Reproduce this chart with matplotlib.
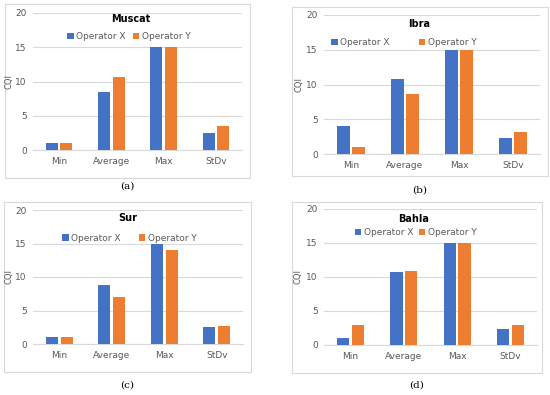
import matplotlib
matplotlib.use("Agg")
import matplotlib.pyplot as plt
from matplotlib.patches import Rectangle
import numpy as np

categories = ["Min", "Average", "Max", "StDv"]
series_names = ["Operator X", "Operator Y"]
titles = ["Muscat", "Ibra", "Sur", "Bahla"]
captions = ["(a)", "(b)", "(c)", "(d)"]

muscat_x = [1, 8.5, 15, 2.5]
muscat_y = [1, 10.6, 15, 3.5]
ibra_x = [4, 10.8, 15, 2.3]
ibra_y = [1, 8.6, 15, 3.2]
sur_x = [1, 8.8, 15, 2.6]
sur_y = [1, 7, 14, 2.7]
bahla_x = [1, 10.7, 15, 2.3]
bahla_y = [3, 10.9, 15, 3.0]

data = [(muscat_x, muscat_y), (ibra_x, ibra_y), (sur_x, sur_y), (bahla_x, bahla_y)]

W, H = 550, 395
fig = plt.figure(figsize=(5.5, 3.95), dpi=100)
fig.patch.set_facecolor("white")

# pixel layouts: (ax l, r, t, b), (box l, r, t, b), caption y, ylabel x, title pos, legend pos, colspacing
layouts = [
    ((33, 242, 13, 150), (5, 250, 4, 178), 186, 9, (0.47, 0.955), (0.46, 0.825), 0.8),
    ((324, 540, 15, 154), (292, 548, 7, 176), 190, 299, (0.44, 0.935), (0.37, 0.80), 3.2),
    ((33, 243, 210, 344), (4, 251, 202, 372), 385, 9, (0.45, 0.94), (0.46, 0.79), 2.0),
    ((324, 537, 209, 345), (292, 542, 202, 373), 385, 298, (0.42, 0.925), (0.43, 0.825), 0.6),
]

blue = "#4472C4"
orange = "#ED7D31"
grid_c = "#D9D9D9"
txt_c = "#595959"

x = np.arange(len(categories))
bw = 0.23
for i, ((sx, sy), lay) in enumerate(zip(data, layouts)):
    (al, ar, at, ab), (bl, br, bt, bb), cy, ylx, tpos, lpos, colsp = lay
    fig.patches.append(Rectangle((bl / W, 1 - bb / H), (br - bl) / W, (bb - bt) / H,
                                 transform=fig.transFigure, fill=False,
                                 edgecolor=grid_c, linewidth=0.8))
    ax = fig.add_axes([al / W, 1 - ab / H, (ar - al) / W, (ab - at) / H])
    ax.set_facecolor("none")
    ax.bar(x - 0.14, sx, bw, color=blue, label=series_names[0], zorder=3)
    ax.bar(x + 0.14, sy, bw, color=orange, label=series_names[1], zorder=3)
    ax.set_ylim(0, 20)
    ax.set_xlim(-0.5, 3.5)
    ax.set_yticks([0, 5, 10, 15, 20])
    ax.yaxis.grid(True, color=grid_c, linewidth=0.8, zorder=0)
    ax.set_axisbelow(True)
    for s in ["top", "right", "left"]:
        ax.spines[s].set_visible(False)
    ax.spines["bottom"].set_color(grid_c)
    ax.spines["bottom"].set_linewidth(0.8)
    ax.set_xticks(x)
    ax.set_xticklabels(categories)
    ax.tick_params(axis="both", length=0, labelsize=6.5, colors=txt_c)
    ax.tick_params(axis="y", pad=4.5)
    ax.tick_params(axis="x", pad=5)
    ax.text(tpos[0], tpos[1], titles[i], transform=ax.transAxes, ha="center",
            va="center", fontsize=7, fontweight="bold", color="black")
    leg = ax.legend(loc="center", bbox_to_anchor=lpos, ncol=2, frameon=False,
                    fontsize=6.5, handlelength=0.7, handleheight=0.7,
                    handletextpad=0.3, columnspacing=colsp, borderaxespad=0)
    for t in leg.get_texts():
        t.set_color(txt_c)
    fig.text(ylx / W, 1 - ((at + ab) / 2) / H, "CQI", rotation=90, ha="center",
             va="center", fontsize=6, color=txt_c)
    fig.text(((bl + br) / 2) / W, 1 - cy / H, captions[i], ha="center", va="center",
             fontsize=7.5, family="DejaVu Serif", color="black")

fig.savefig("out.png", dpi=100, facecolor="white")
